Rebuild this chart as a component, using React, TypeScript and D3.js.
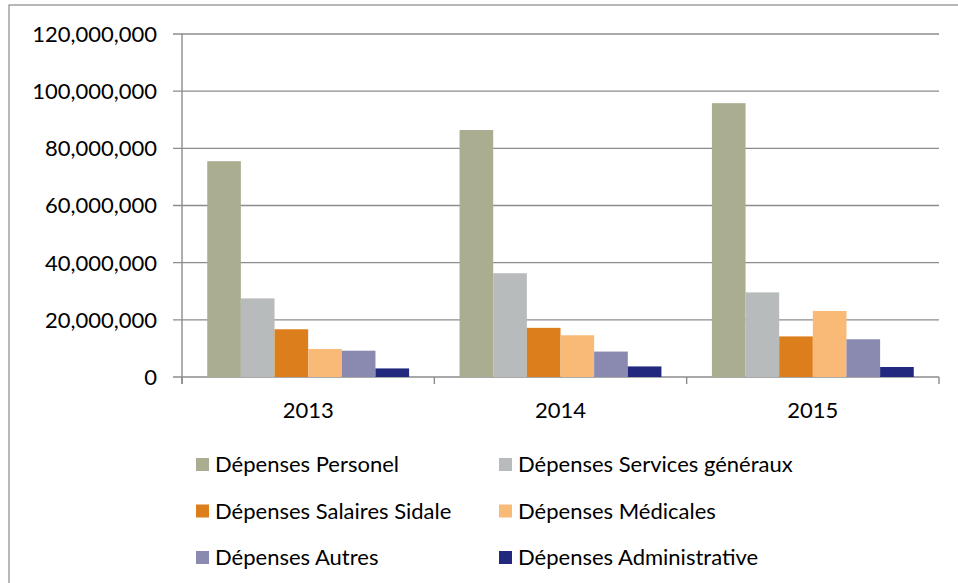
import React from "react"
import { scaleLinear, scaleBand, format } from "d3"

const years = ["2013", "2014", "2015"]
const seriesNames = [
  "Dépenses Personel",
  "Dépenses Services généraux",
  "Dépenses Salaires Sidale",
  "Dépenses Médicales",
  "Dépenses Autres",
  "Dépenses Administrative",
]
const personel = [75500000, 86400000, 95800000]
const servicesGeneraux = [27500000, 36300000, 29600000]
const salairesSidale = [16700000, 17200000, 14200000]
const medicales = [9800000, 14600000, 23100000]
const autres = [9200000, 8900000, 13200000]
const administrative = [3000000, 3700000, 3500000]
const yTicks = [0, 20000000, 40000000, 60000000, 80000000, 100000000, 120000000]

const colors = ["#abad91", "#b8bbbb", "#dc7e1b", "#f9b977", "#8a89b0", "#23287f"]

const width = 958
const height = 583
const margin = { top: 34, right: 19, bottom: 206, left: 182 }
const font = "Lato, 'Open Sans', sans-serif"

function App() {
  const seriesValues = [personel, servicesGeneraux, salairesSidale, medicales, autres, administrative]

  const innerWidth = width - margin.left - margin.right
  const innerHeight = height - margin.top - margin.bottom

  const xScale = scaleBand().domain(years).range([0, innerWidth]).padding(0)
  const subScale = scaleBand()
    .domain(seriesNames)
    .range([0, xScale.bandwidth()])
    .paddingInner(0)
    .paddingOuter(0.75)
  const yScale = scaleLinear().domain([0, 120000000]).range([innerHeight, 0])
  const fmt = format(",")

  const boundaries = [...years.map(y => xScale(y)), innerWidth]

  return (
    <svg width={width} height={height} style={{ position: "absolute", left: 0, top: 0 }}>
      <rect x={0} y={0} width={width} height={height} fill="white" />
      <rect x={9} y={5} width={980} height={620} fill="none" stroke="#8a8a8a" strokeWidth={1.2} />
      <g transform={`translate(${margin.left}, ${margin.top})`}>
        {yTicks.map(t => (
          <g key={t} transform={`translate(0, ${yScale(t)})`}>
            <line x1={-9} x2={innerWidth} stroke="#8c8c8c" strokeWidth={1.4} />
            <text
              x={-25}
              dy="0.36em"
              textAnchor="end"
              fontFamily={font}
              fontSize={22}
              fill="#000"
            >{fmt(t)}</text>
          </g>
        ))}
        <line y1={0} y2={innerHeight + 7} stroke="#8c8c8c" strokeWidth={1.4} />
        {boundaries.map((b, i) => (
          <line key={i} x1={b} x2={b} y1={innerHeight} y2={innerHeight + 7} stroke="#8c8c8c" strokeWidth={1.4} />
        ))}
        {years.map((year, yi) => (
          <g key={year} transform={`translate(${xScale(year)}, 0)`}>
            {seriesNames.map((s, si) => {
              const v = seriesValues[si][yi]
              return (
                <rect
                  key={s}
                  x={subScale(s)}
                  y={yScale(v)}
                  width={subScale.bandwidth()}
                  height={innerHeight - yScale(v)}
                  fill={colors[si]}
                />
              )
            })}
            <text
              x={xScale.bandwidth() / 2}
              y={innerHeight + 41}
              textAnchor="middle"
              fontFamily={font}
              fontSize={22}
              fill="#000"
            >{year}</text>
          </g>
        ))}
      </g>
      <g>
        {seriesNames.map((s, i) => {
          const col = i % 2
          const row = Math.floor(i / 2)
          const x = col === 0 ? 196 : 499
          const y = 458 + row * 46.5
          return (
            <g key={s} transform={`translate(${x}, ${y})`}>
              <rect width={13} height={13} fill={colors[i]} />
              <text x={19} y={14} fontFamily={font} fontSize={22} fill="#000">{s}</text>
            </g>
          )
        })}
      </g>
    </svg>
  )
}

export default App
